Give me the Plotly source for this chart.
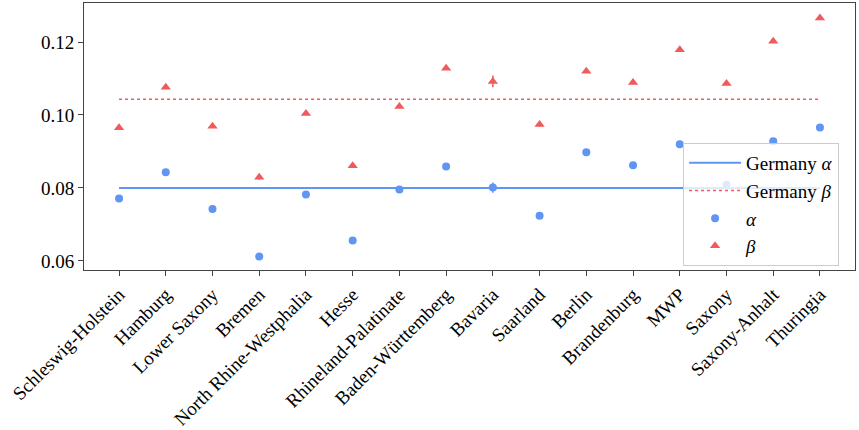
import plotly.graph_objects as go

states = ["Schleswig-Holstein", "Hamburg", "Lower Saxony", "Bremen",
          "North Rhine-Westphalia", "Hesse", "Rhineland-Palatinate",
          "Baden-Württemberg", "Bavaria", "Saarland", "Berlin", "Brandenburg",
          "MWP", "Saxony", "Saxony-Anhalt", "Thuringia"]

alpha = [0.0771, 0.0843, 0.0742, 0.0612, 0.0782, 0.0656, 0.0796, 0.0859,
         0.0801, 0.0724, 0.0898, 0.0862, 0.0920, 0.0809, 0.0928, 0.0966]
alpha_err = [0.0004, 0.0005, 0.0003, 0.0006, 0.0002, 0.0003, 0.0004, 0.0003,
             0.0014, 0.0006, 0.0005, 0.0005, 0.0006, 0.0004, 0.0005, 0.0005]

beta = [0.0965, 0.1076, 0.0969, 0.0829, 0.1004, 0.0861, 0.1023, 0.1128,
        0.1092, 0.0974, 0.1120, 0.1089, 0.1179, 0.1086, 0.1202, 0.1266]
beta_err = [0.0004, 0.0005, 0.0003, 0.0006, 0.0002, 0.0003, 0.0004, 0.0003,
            0.0016, 0.0006, 0.0005, 0.0005, 0.0006, 0.0004, 0.0005, 0.0005]

germany_alpha = 0.0800
germany_beta = 0.1043

BLUE = "#5f95f3"
RED = "#f05a5c"
FONT = "Liberation Serif"

fig = go.Figure()

fig.add_trace(go.Scatter(
    x=[states[0], states[-1]], y=[germany_alpha, germany_alpha],
    mode="lines", line=dict(color=BLUE, width=2),
    name="Germany <i>α</i>"))
fig.add_trace(go.Scatter(
    x=[states[0], states[-1]], y=[germany_beta, germany_beta],
    mode="lines", line=dict(color=RED, width=1.6, dash="dot"),
    name="Germany <i>β</i>"))
fig.add_trace(go.Scatter(
    x=states, y=alpha, mode="markers",
    marker=dict(color=BLUE, size=8, symbol="circle"),
    error_y=dict(type="data", array=alpha_err, color=BLUE, thickness=1.5, width=0),
    name="<i>α</i>"))
fig.add_trace(go.Scatter(
    x=states, y=beta, mode="markers",
    marker=dict(color=RED, size=9, symbol="triangle-up"),
    error_y=dict(type="data", array=beta_err, color=RED, thickness=1.5, width=0),
    name="<i>β</i>"))

axis_common = dict(showline=True, linecolor="#444", linewidth=1, mirror=True,
                   ticks="outside", ticklen=5, tickcolor="#444", showgrid=False,
                   zeroline=False, automargin=False,
                   tickfont=dict(family=FONT, size=19, color="black"))

fig.update_xaxes(type="category", categoryorder="array", categoryarray=states,
                 range=[-0.75, 15.75], tickangle=-45, **axis_common)
fig.update_yaxes(range=[0.0575, 0.1307], tickvals=[0.06, 0.08, 0.10, 0.12],
                 tickformat=".2f", **axis_common)

fig.update_layout(
    width=859, height=430,
    margin=dict(l=84, r=4, t=3, b=160),
    paper_bgcolor="white", plot_bgcolor="white",
    font=dict(family=FONT, size=19, color="black"),
    legend=dict(x=0.777, y=0.476, xanchor="left", yanchor="top",
                bgcolor="rgba(255,255,255,0.8)", bordercolor="#ccc", borderwidth=1,
                font=dict(family=FONT, size=19), itemwidth=52,
                tracegroupgap=0),
    showlegend=True,
)

fig.write_html("out.html", post_script="document.body.style.margin='0';",
               config={"displayModeBar": False})
